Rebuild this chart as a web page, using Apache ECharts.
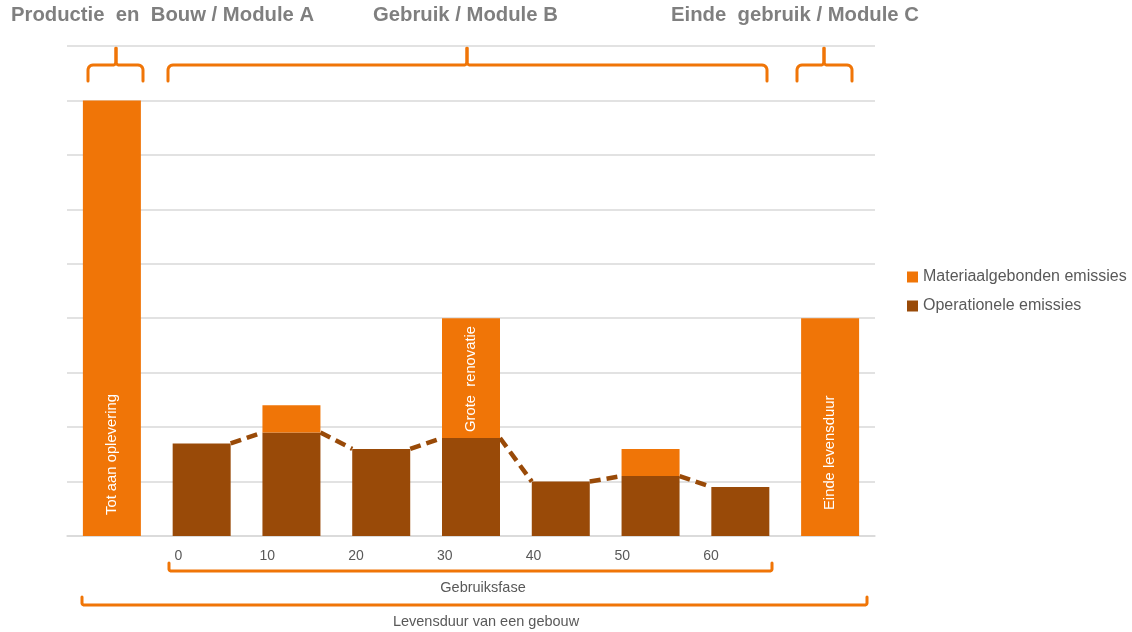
<!DOCTYPE html>
<html>
<head>
<meta charset="utf-8">
<script src="https://cdn.jsdelivr.net/npm/echarts@6/dist/echarts.min.js"></script>
<style>
  html, body { margin: 0; padding: 0; background: #ffffff; }
  #chart { width: 1132px; height: 632px; }
</style>
</head>
<body>
<div id="chart"></div>
<script>
// Lifecycle phases (one column per phase step)
const categories = ['A', 'B0', 'B10', 'B20', 'B30', 'B40', 'B50', 'B60', 'C'];
// Operational emissions per step
const operational = [0, 1.7, 1.9, 1.6, 1.8, 1.0, 1.1, 0.9, 0];
// Embodied (material) emissions per step
const material = [8, 0, 0.5, 0, 2.2, 0, 0.5, 0, 4];
// In-bar captions
const barCaptions = { 0: 'Tot aan oplevering', 4: 'Grote  renovatie', 8: 'Einde levensduur' };
// Years of the use phase
const yearTicks = [0, 10, 20, 30, 40, 50, 60];
const seriesNames = ['Materiaalgebonden emissies', 'Operationele emissies'];

const ORANGE = '#F07507';
const BROWN = '#994A08';
const GREY_TEXT = '#595959';
const BAR_W = 58;
const FONT = '"Liberation Sans", Arial, sans-serif';

const chart = echarts.init(document.getElementById('chart'), null, { renderer: 'canvas' });

// Material segments, with captions on the marked steps
const materialData = material.map((v, i) => {
  if (barCaptions[i] === undefined) return v;
  const dist = i === 0 ? 21 : (i === 4 ? 6 : 26);
  return {
    value: v,
    label: {
      show: true,
      position: 'insideBottom',
      rotate: 90,
      align: 'left',
      verticalAlign: 'middle',
      distance: dist,
      formatter: barCaptions[i],
      color: '#ffffff',
      fontSize: 14.8,
      fontFamily: FONT
    }
  };
});

// Dashed connectors between the tops of consecutive operational bars
const connectorData = [];
for (let i = 1; i < 7; i++) {
  connectorData.push([i, operational[i], i + 1, operational[i + 1]]);
}

// Quarter-circle corner points, for rounded polylines
function arcPts(cx, cy, r, a0, a1) {
  const pts = [];
  const n = 6;
  for (let k = 0; k <= n; k++) {
    const a = a0 + (a1 - a0) * k / n;
    pts.push([cx + r * Math.cos(a), cy + r * Math.sin(a)]);
  }
  return pts;
}
const PI = Math.PI;

// Curly brace above a span: two halves meeting at the tip
function braceHalves(x0, x1, xm) {
  const yb = 81, yh = 65, yt = 48, r = 5, t = 3;
  const left = [[x0, yb]]
    .concat(arcPts(x0 + r, yh + r, r, PI, 1.5 * PI))
    .concat(arcPts(xm - t, yh - t, t, 0.5 * PI, 0))
    .concat([[xm, yt]]);
  const right = [[xm, yt]]
    .concat(arcPts(xm + t, yh - t, t, PI, 0.5 * PI))
    .concat(arcPts(x1 - r, yh + r, r, 1.5 * PI, 2 * PI))
    .concat([[x1, yb]]);
  return [left, right];
}
// Square bracket below a span
function bracketPts(x0, x1, yTop, yLine) {
  const r = 2;
  return [[x0, yTop]]
    .concat(arcPts(x0 + r, yLine - r, r, PI, 0.5 * PI))
    .concat(arcPts(x1 - r, yLine - r, r, 0.5 * PI, 0))
    .concat([[x1, yTop]]);
}
function polyEl(points) {
  return {
    type: 'polyline',
    shape: { points: points },
    style: { stroke: ORANGE, fill: null, lineWidth: 3, lineCap: 'round', lineJoin: 'round' },
    silent: true
  };
}
function heading(text, x) {
  return {
    type: 'text', x: x, y: 15,
    style: { text: text, fill: '#7F7F7F', font: 'bold 20.3px ' + FONT, align: 'left', verticalAlign: 'middle' }
  };
}
function caption(text, cx, cy) {
  return {
    type: 'text', x: cx, y: cy,
    style: { text: text, fill: GREY_TEXT, font: '14.5px ' + FONT, align: 'center', verticalAlign: 'middle' }
  };
}

const braceEls = []
  .concat(braceHalves(88, 143, 116))
  .concat(braceHalves(168, 767, 467))
  .concat(braceHalves(797, 852, 824))
  .map(polyEl);

const option = {
  backgroundColor: '#ffffff',
  animation: false,
  textStyle: { fontFamily: FONT },
  grid: { left: 67, right: 257, top: 46, bottom: 96, containLabel: false },
  legend: {
    data: seriesNames,
    orient: 'vertical',
    left: 902,
    top: 264,
    itemWidth: 11,
    itemHeight: 11,
    itemGap: 13,
    icon: 'rect',
    textStyle: { color: GREY_TEXT, fontSize: 16, fontFamily: FONT }
  },
  xAxis: [
    {
      type: 'category',
      data: categories,
      axisLine: { show: true, lineStyle: { color: '#D9D9D9', width: 1.5 } },
      axisTick: { show: false },
      axisLabel: { show: false },
      splitLine: { show: false }
    },
    {
      type: 'value',
      position: 'bottom',
      min: -12.56,
      max: 78.48,
      axisLine: { show: false },
      axisTick: { show: false },
      splitLine: { show: false },
      axisLabel: {
        customValues: yearTicks,
        color: GREY_TEXT,
        fontSize: 14,
        fontFamily: FONT,
        margin: 13
      }
    }
  ],
  yAxis: {
    type: 'value',
    min: 0,
    max: 9,
    interval: 1,
    axisLine: { show: false },
    axisTick: { show: false },
    axisLabel: { show: false },
    splitLine: { lineStyle: { color: '#D9D9D9', width: 1.5 } }
  },
  series: [
    {
      name: 'connectors',
      type: 'custom',
      xAxisIndex: 0,
      z: 1,
      silent: true,
      data: connectorData,
      renderItem: function (params, api) {
        const a = api.coord([api.value(0), api.value(1)]);
        const b = api.coord([api.value(2), api.value(3)]);
        return {
          type: 'line',
          shape: { x1: a[0] + BAR_W / 2, y1: a[1], x2: b[0] - BAR_W / 2, y2: b[1] },
          style: { stroke: BROWN, lineWidth: 4.5, lineDash: [11, 6], lineCap: 'butt' }
        };
      }
    },
    {
      name: seriesNames[1],
      type: 'bar',
      stack: 'total',
      xAxisIndex: 0,
      barWidth: BAR_W,
      z: 2,
      itemStyle: { color: BROWN },
      data: operational
    },
    {
      name: seriesNames[0],
      type: 'bar',
      stack: 'total',
      xAxisIndex: 0,
      barWidth: BAR_W,
      z: 2,
      itemStyle: { color: ORANGE },
      data: materialData
    }
  ],
  graphic: [
    heading('Productie  en  Bouw / Module A', 11),
    heading('Gebruik / Module B', 373),
    heading('Einde  gebruik / Module C', 671),
    polyEl(bracketPts(169, 772, 563, 571)),
    polyEl(bracketPts(82, 867, 597, 605)),
    caption('Gebruiksfase', 483, 588),
    caption('Levensduur van een gebouw', 486, 622)
  ].concat(braceEls)
};

chart.setOption(option);
</script>
</body>
</html>
